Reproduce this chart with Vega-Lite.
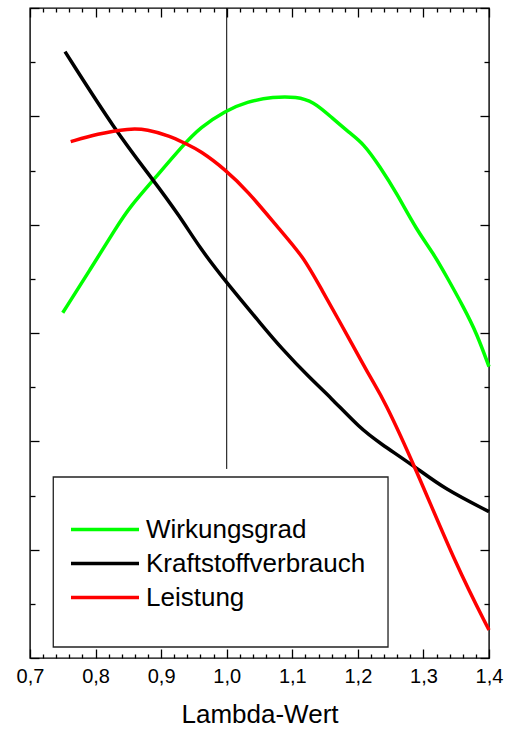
{
  "$schema": "https://vega.github.io/schema/vega-lite/v6.json",
  "width": 459,
  "height": 650,
  "autosize": "none",
  "padding": {"left": 30, "top": 8, "right": 17, "bottom": 71},
  "background": "white",
  "config": {
    "view": {"stroke": "black", "strokeWidth": 1.4},
    "axis": {"domain": false, "grid": false, "tickColor": "black", "tickWidth": 1.3, "labelColor": "black", "titleColor": "black", "labelFont": "Liberation Sans", "titleFont": "Liberation Sans", "titleFontWeight": "normal"}
  },
  "datasets": {
    "curves": [
      {"series": "Wirkungsgrad", "lambda": 0.7499, "value": 3.187},
      {"series": "Wirkungsgrad", "lambda": 0.7915, "value": 3.582},
      {"series": "Wirkungsgrad", "lambda": 0.8322, "value": 3.981},
      {"series": "Wirkungsgrad", "lambda": 0.8525, "value": 4.166},
      {"series": "Wirkungsgrad", "lambda": 0.888, "value": 4.412},
      {"series": "Wirkungsgrad", "lambda": 0.9338, "value": 4.736},
      {"series": "Wirkungsgrad", "lambda": 0.9593, "value": 4.897},
      {"series": "Wirkungsgrad", "lambda": 0.9985, "value": 5.052},
      {"series": "Wirkungsgrad", "lambda": 1.0305, "value": 5.135},
      {"series": "Wirkungsgrad", "lambda": 1.071, "value": 5.181},
      {"series": "Wirkungsgrad", "lambda": 1.1067, "value": 5.181},
      {"series": "Wirkungsgrad", "lambda": 1.1321, "value": 5.135},
      {"series": "Wirkungsgrad", "lambda": 1.1575, "value": 5.003},
      {"series": "Wirkungsgrad", "lambda": 1.188, "value": 4.843},
      {"series": "Wirkungsgrad", "lambda": 1.2083, "value": 4.751},
      {"series": "Wirkungsgrad", "lambda": 1.2338, "value": 4.535},
      {"series": "Wirkungsgrad", "lambda": 1.2592, "value": 4.29},
      {"series": "Wirkungsgrad", "lambda": 1.2897, "value": 3.951},
      {"series": "Wirkungsgrad", "lambda": 1.3151, "value": 3.736},
      {"series": "Wirkungsgrad", "lambda": 1.3355, "value": 3.52},
      {"series": "Wirkungsgrad", "lambda": 1.3608, "value": 3.243},
      {"series": "Wirkungsgrad", "lambda": 1.3813, "value": 2.997},
      {"series": "Wirkungsgrad", "lambda": 1.4, "value": 2.689},
      {"series": "Kraftstoffverbrauch", "lambda": 0.7534, "value": 5.597},
      {"series": "Kraftstoffverbrauch", "lambda": 0.8312, "value": 4.858},
      {"series": "Kraftstoffverbrauch", "lambda": 0.888, "value": 4.412},
      {"series": "Kraftstoffverbrauch", "lambda": 0.9288, "value": 4.074},
      {"series": "Kraftstoffverbrauch", "lambda": 0.9593, "value": 3.782},
      {"series": "Kraftstoffverbrauch", "lambda": 0.9985, "value": 3.474},
      {"series": "Kraftstoffverbrauch", "lambda": 1.0558, "value": 3.058},
      {"series": "Kraftstoffverbrauch", "lambda": 1.0813, "value": 2.874},
      {"series": "Kraftstoffverbrauch", "lambda": 1.127, "value": 2.582},
      {"series": "Kraftstoffverbrauch", "lambda": 1.1575, "value": 2.412},
      {"series": "Kraftstoffverbrauch", "lambda": 1.2033, "value": 2.12},
      {"series": "Kraftstoffverbrauch", "lambda": 1.2338, "value": 1.982},
      {"series": "Kraftstoffverbrauch", "lambda": 1.2872, "value": 1.766},
      {"series": "Kraftstoffverbrauch", "lambda": 1.3303, "value": 1.567},
      {"series": "Kraftstoffverbrauch", "lambda": 1.4, "value": 1.351},
      {"series": "Leistung", "lambda": 0.7621, "value": 4.766},
      {"series": "Leistung", "lambda": 0.8017, "value": 4.837},
      {"series": "Leistung", "lambda": 0.8525, "value": 4.89},
      {"series": "Leistung", "lambda": 0.878, "value": 4.88},
      {"series": "Leistung", "lambda": 0.9135, "value": 4.819},
      {"series": "Leistung", "lambda": 0.9364, "value": 4.751},
      {"series": "Leistung", "lambda": 0.9593, "value": 4.685},
      {"series": "Leistung", "lambda": 0.9985, "value": 4.505},
      {"series": "Leistung", "lambda": 1.0305, "value": 4.32},
      {"series": "Leistung", "lambda": 1.0813, "value": 3.951},
      {"series": "Leistung", "lambda": 1.1168, "value": 3.704},
      {"series": "Leistung", "lambda": 1.1423, "value": 3.428},
      {"series": "Leistung", "lambda": 1.188, "value": 2.935},
      {"series": "Leistung", "lambda": 1.2211, "value": 2.566},
      {"series": "Leistung", "lambda": 1.2388, "value": 2.397},
      {"series": "Leistung", "lambda": 1.2872, "value": 1.766},
      {"series": "Leistung", "lambda": 1.3507, "value": 0.843},
      {"series": "Leistung", "lambda": 1.4, "value": 0.258}
    ]
  },
  "resolve": {"axis": {"x": "independent", "y": "independent"}},
  "layer": [
    {
      "data": {"values": [{}]},
      "mark": {"type": "rule", "color": "black", "strokeWidth": 1},
      "encoding": {
        "x": {"datum": 1.0, "type": "quantitative",
          "scale": {"domain": [0.7, 1.4], "nice": false, "zero": false},
          "axis": {"orient": "bottom", "values": [0.72, 0.74, 0.76, 0.78, 0.82, 0.84, 0.86, 0.88, 0.92, 0.94, 0.96, 0.98, 1.02, 1.04, 1.06, 1.08, 1.12, 1.14, 1.16, 1.18, 1.22, 1.24, 1.26, 1.28, 1.32, 1.34, 1.36, 1.38], "tickSize": -4, "labels": false, "title": null}},
        "y": {"datum": 6, "type": "quantitative",
          "scale": {"domain": [0, 6], "nice": false, "zero": false},
          "axis": {"orient": "left", "values": [0.5, 1.5, 2.5, 3.5, 4.5, 5.5], "tickSize": -5, "labels": false, "title": null}},
        "y2": {"datum": 1.745}
      }
    },
    {
      "data": {"name": "curves"},
      "mark": {"type": "line", "strokeWidth": 3.5, "interpolate": "basis"},
      "encoding": {
        "x": {"field": "lambda", "type": "quantitative",
          "axis": {"orient": "bottom", "values": [0.7, 0.8, 0.9, 1.0, 1.1, 1.2, 1.3, 1.4], "tickSize": -9, "labelPadding": 17.5, "labelFontSize": 20, "labelFlush": false, "labelExpr": "replace(format(datum.value, '.1f'), '.', ',')", "title": "Lambda-Wert", "titleFontSize": 26, "titlePadding": 14.5}},
        "y": {"field": "value", "type": "quantitative",
          "axis": {"orient": "left", "values": [0, 1, 2, 3, 4, 5, 6], "tickSize": -9, "labels": false, "title": null}},
        "color": {"field": "series", "type": "nominal",
          "scale": {"domain": ["Wirkungsgrad", "Kraftstoffverbrauch", "Leistung"], "range": ["#00ff00", "#000000", "#ff0000"]},
          "legend": {"orient": "none", "legendX": 39, "legendY": 504.75, "title": null, "symbolType": "stroke", "symbolSize": 4624, "symbolStrokeWidth": 3.5, "labelFontSize": 26, "labelFont": "Liberation Sans", "labelColor": "black", "labelOffset": 5, "labelLimit": 0, "clipHeight": 33.5, "rowPadding": 0, "padding": 0}}
      }
    },
    {
      "data": {"values": [{}]},
      "mark": {"type": "rect", "fill": "white", "stroke": "#222222", "strokeWidth": 1.3},
      "encoding": {
        "x": {"datum": 0.7355, "type": "quantitative",
          "axis": {"orient": "top", "values": [0.7, 0.8, 0.9, 1.0, 1.1, 1.2, 1.3, 1.4], "tickSize": -9, "labels": false, "title": null}},
        "x2": {"datum": 1.246},
        "y": {"datum": 1.671, "type": "quantitative",
          "axis": {"orient": "right", "values": [0, 1, 2, 3, 4, 5, 6], "tickSize": -9, "labels": false, "title": null}},
        "y2": {"datum": 0.1015}
      }
    },
    {
      "data": {"name": "curves"},
      "mark": {"type": "point", "opacity": 0},
      "encoding": {
        "x": {"field": "lambda", "type": "quantitative",
          "axis": {"orient": "top", "values": [0.72, 0.74, 0.76, 0.78, 0.82, 0.84, 0.86, 0.88, 0.92, 0.94, 0.96, 0.98, 1.02, 1.04, 1.06, 1.08, 1.12, 1.14, 1.16, 1.18, 1.22, 1.24, 1.26, 1.28, 1.32, 1.34, 1.36, 1.38], "tickSize": -4, "labels": false, "title": null}},
        "y": {"field": "value", "type": "quantitative",
          "axis": {"orient": "right", "values": [0.5, 1.5, 2.5, 3.5, 4.5, 5.5], "tickSize": -5, "labels": false, "title": null}}
      }
    }
  ]
}
